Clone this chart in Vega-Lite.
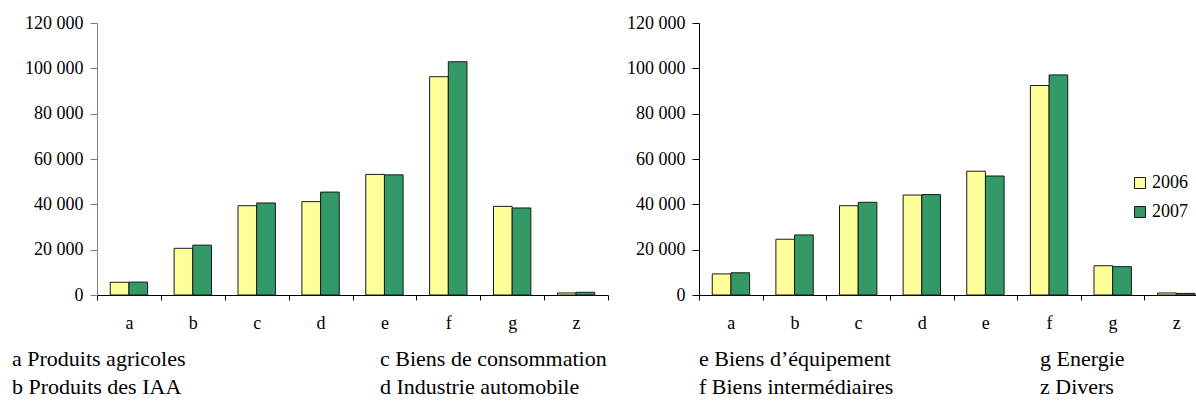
{
  "$schema": "https://vega.github.io/schema/vega-lite/v6.json",
  "autosize": {"type": "none"},
  "padding": {"left": 97, "top": 23, "right": 1099, "bottom": 378},
  "background": "white",
  "config": {
    "view": {"stroke": null},
    "font": "Liberation Serif, Times New Roman, DejaVu Serif, serif",
    "axis": {"labelFont": "Liberation Serif, Times New Roman, DejaVu Serif, serif", "labelColor": "black", "grid": false, "title": null},
    "legend": {"labelFont": "Liberation Serif, Times New Roman, DejaVu Serif, serif"},
    "text": {"font": "Liberation Serif, Times New Roman, DejaVu Serif, serif"}
  },
  "columns": 2,
  "spacing": {"row": 71, "column": 91},
  "bounds": "flush",
  "resolve": {"scale": {"x": "independent", "y": "independent"}},
  "concat": [
    {
      "width": 511,
      "height": 272,
      "data": {"values": [
        {"cat": "a", "year": "2006", "value": 5600}, {"cat": "a", "year": "2007", "value": 5700},
        {"cat": "b", "year": "2006", "value": 20600}, {"cat": "b", "year": "2007", "value": 22000},
        {"cat": "c", "year": "2006", "value": 39400}, {"cat": "c", "year": "2007", "value": 40600},
        {"cat": "d", "year": "2006", "value": 41200}, {"cat": "d", "year": "2007", "value": 45400},
        {"cat": "e", "year": "2006", "value": 53200}, {"cat": "e", "year": "2007", "value": 53000},
        {"cat": "f", "year": "2006", "value": 96300}, {"cat": "f", "year": "2007", "value": 102900},
        {"cat": "g", "year": "2006", "value": 39100}, {"cat": "g", "year": "2007", "value": 38400},
        {"cat": "z", "year": "2006", "value": 900}, {"cat": "z", "year": "2007", "value": 1200}
      ]},
      "mark": {"type": "bar", "stroke": "#1a1a1a", "strokeWidth": 1},
      "encoding": {
        "x": {"field": "cat", "type": "nominal",
              "scale": {"domain": ["a","b","c","d","e","f","g","z"], "paddingInner": 0, "paddingOuter": 0},
              "axis": {"labelAngle": 0, "tickBand": "extent", "domainColor": "black", "tickColor": "black", "tickSize": 5, "labelFontSize": 18, "labelPadding": 14}},
        "xOffset": {"field": "year", "type": "nominal", "scale": {"paddingOuter": 0.71, "paddingInner": 0}},
        "y": {"field": "value", "type": "quantitative",
              "scale": {"domain": [0, 120000], "nice": false},
              "axis": {"values": [0, 20000, 40000, 60000, 80000, 100000, 120000], "labelExpr": "replace(format(datum.value, ','), ',', ' ')", "domainColor": "#808080", "tickColor": "#808080", "tickSize": 7, "labelPadding": 7, "labelFontSize": 18}},
        "color": {"field": "year", "type": "nominal",
                  "scale": {"domain": ["2006", "2007"], "range": ["#FFFF99", "#339966"]},
                  "legend": {"orient": "none", "legendX": 1034, "legendY": 151, "title": null, "symbolType": "square", "symbolSize": 121, "symbolStrokeColor": "black", "symbolStrokeWidth": 1, "labelFontSize": 18, "labelColor": "black", "rowPadding": 11, "labelOffset": 3, "padding": 0}}
      }
    },
    {
      "width": 509,
      "height": 272,
      "data": {"values": [
        {"cat": "a", "year": "2006", "value": 9300}, {"cat": "a", "year": "2007", "value": 9800},
        {"cat": "b", "year": "2006", "value": 24600}, {"cat": "b", "year": "2007", "value": 26500},
        {"cat": "c", "year": "2006", "value": 39400}, {"cat": "c", "year": "2007", "value": 40900},
        {"cat": "d", "year": "2006", "value": 44100}, {"cat": "d", "year": "2007", "value": 44300},
        {"cat": "e", "year": "2006", "value": 54600}, {"cat": "e", "year": "2007", "value": 52500},
        {"cat": "f", "year": "2006", "value": 92400}, {"cat": "f", "year": "2007", "value": 97100},
        {"cat": "g", "year": "2006", "value": 12900}, {"cat": "g", "year": "2007", "value": 12500},
        {"cat": "z", "year": "2006", "value": 900}, {"cat": "z", "year": "2007", "value": 700}
      ]},
      "mark": {"type": "bar", "stroke": "#1a1a1a", "strokeWidth": 1},
      "encoding": {
        "x": {"field": "cat", "type": "nominal",
              "scale": {"domain": ["a","b","c","d","e","f","g","z"], "paddingInner": 0, "paddingOuter": 0},
              "axis": {"labelAngle": 0, "tickBand": "extent", "domainColor": "black", "tickColor": "black", "tickSize": 5, "labelFontSize": 18, "labelPadding": 14}},
        "xOffset": {"field": "year", "type": "nominal", "scale": {"paddingOuter": 0.71, "paddingInner": 0}},
        "y": {"field": "value", "type": "quantitative",
              "scale": {"domain": [0, 120000], "nice": false},
              "axis": {"values": [0, 20000, 40000, 60000, 80000, 100000, 120000], "labelExpr": "replace(format(datum.value, ','), ',', ' ')", "domainColor": "black", "tickColor": "black", "tickSize": 7, "labelPadding": 7, "labelFontSize": 18}},
        "color": {"field": "year", "type": "nominal",
                  "scale": {"domain": ["2006", "2007"], "range": ["#FFFF99", "#339966"]}}
      }
    },
    {
      "width": 511,
      "height": 28,
      "data": {"values": [
        {"col": "1", "line": "1", "label": "a Produits agricoles"},
        {"col": "1", "line": "2", "label": "b Produits des IAA"},
        {"col": "2", "line": "1", "label": "c Biens de consommation"},
        {"col": "2", "line": "2", "label": "d Industrie automobile"}
      ]},
      "mark": {"type": "text", "align": "left", "baseline": "alphabetic", "fontSize": 22, "color": "black"},
      "encoding": {
        "x": {"field": "col", "type": "nominal", "scale": {"type": "point", "range": [-85, 283], "padding": 0}, "axis": null},
        "y": {"field": "line", "type": "nominal", "scale": {"type": "point", "range": [0, 28], "padding": 0}, "axis": null},
        "text": {"field": "label"}
      }
    },
    {
      "width": 509,
      "height": 28,
      "data": {"values": [
        {"col": "1", "line": "1", "label": "e Biens d’équipement"},
        {"col": "1", "line": "2", "label": "f Biens intermédiaires"},
        {"col": "2", "line": "1", "label": "g Energie"},
        {"col": "2", "line": "2", "label": "z Divers"}
      ]},
      "mark": {"type": "text", "align": "left", "baseline": "alphabetic", "fontSize": 22, "color": "black"},
      "encoding": {
        "x": {"field": "col", "type": "nominal", "scale": {"type": "point", "range": [0, 341], "padding": 0}, "axis": null},
        "y": {"field": "line", "type": "nominal", "scale": {"type": "point", "range": [0, 28], "padding": 0}, "axis": null},
        "text": {"field": "label"}
      }
    }
  ]
}
